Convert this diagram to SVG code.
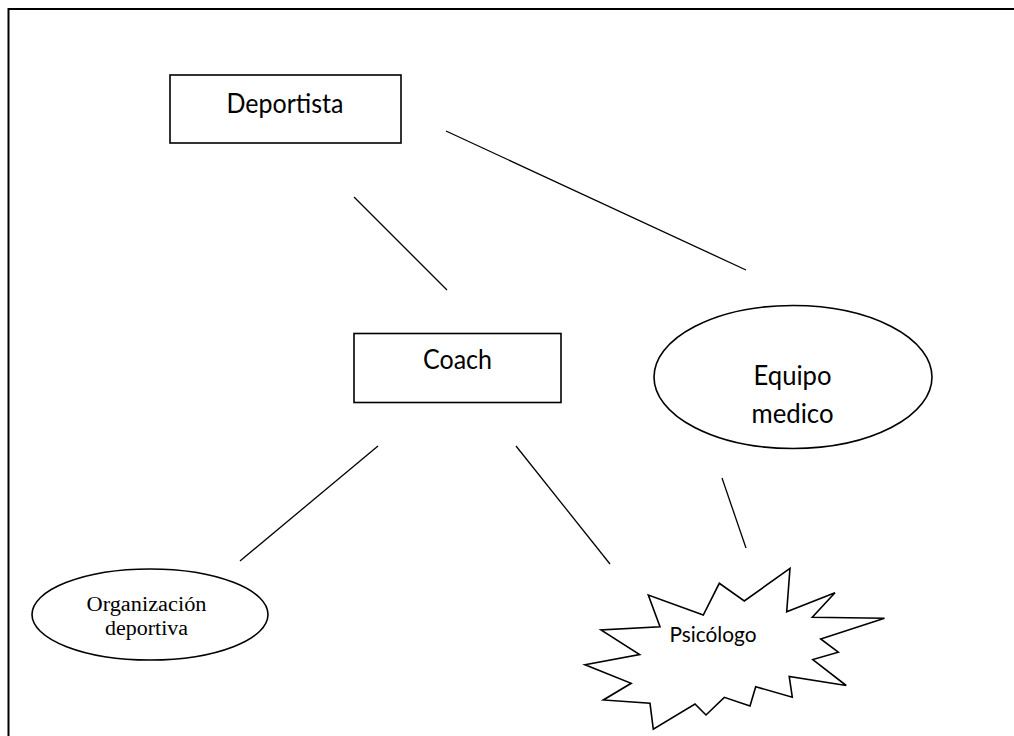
<svg xmlns="http://www.w3.org/2000/svg" width="1014" height="736" viewBox="0 0 1014 736">
<style>
.shape{fill:#fff;stroke:#000;stroke-width:1.6}
.conn line{stroke:#000;stroke-width:1.3}
.sans{font-family:Lato,"Noto Sans","Liberation Sans",sans-serif;fill:#000;text-anchor:middle}
.serif{font-family:"Liberation Serif","Times New Roman",serif;fill:#000;text-anchor:middle}
</style>
<rect width="1014" height="736" fill="#fff"/>
<path d="M8.5 736 V9 H1014" fill="none" stroke="#000" stroke-width="2"/>
<g id="connectors" class="conn">
<line x1="354" y1="197" x2="447" y2="290"/>
<line x1="446" y1="131" x2="746" y2="270"/>
<line x1="378" y1="446" x2="240" y2="561"/>
<line x1="516" y1="446" x2="610" y2="564"/>
<line x1="722" y1="478" x2="746" y2="548"/>
</g>
<g id="deportista">
<rect class="shape" x="170" y="75" width="231" height="68"/>
<text class="sans" x="285" y="113" font-size="26" textLength="117" lengthAdjust="spacingAndGlyphs">Deportista</text>
</g>
<g id="coach">
<rect class="shape" x="354" y="333.5" width="207" height="69"/>
<text class="sans" x="457.5" y="368.5" font-size="26" textLength="69" lengthAdjust="spacingAndGlyphs">Coach</text>
</g>
<g id="equipo-medico">
<ellipse class="shape" cx="793" cy="377" rx="139" ry="71.5"/>
<text class="sans" x="792.5" y="385" font-size="26" textLength="78" lengthAdjust="spacingAndGlyphs">Equipo</text>
<text class="sans" x="792.5" y="423" font-size="26" textLength="82" lengthAdjust="spacingAndGlyphs">medico</text>
</g>
<g id="organizacion-deportiva">
<ellipse class="shape" cx="150" cy="614.5" rx="118" ry="45.5"/>
<text class="serif" x="146.5" y="611" font-size="20" textLength="120" lengthAdjust="spacingAndGlyphs">Organización</text>
<text class="serif" x="146.5" y="634.5" font-size="20" textLength="83" lengthAdjust="spacingAndGlyphs">deportiva</text>
</g>
<g id="psicologo">
<polygon class="shape" points="790,568.3 786.7,611.7 835,592.7 812.3,617.3 884.5,618.3 820.7,639 838.3,652.2 812.8,659.6 846.2,685.5 789.2,676.4 792.3,697.2 755.7,686.7 750,706 724.3,697.3 706,715 695,704 653.3,729.3 650,703.3 603.3,700 631.2,683.3 585,664.7 639.6,654.5 601,630 660,626.7 648.3,595 703.3,615 719.3,583.3 744.3,601"/>
<text class="sans" x="713" y="641.5" font-size="21" textLength="87" lengthAdjust="spacingAndGlyphs">Psicólogo</text>
</g>
</svg>
